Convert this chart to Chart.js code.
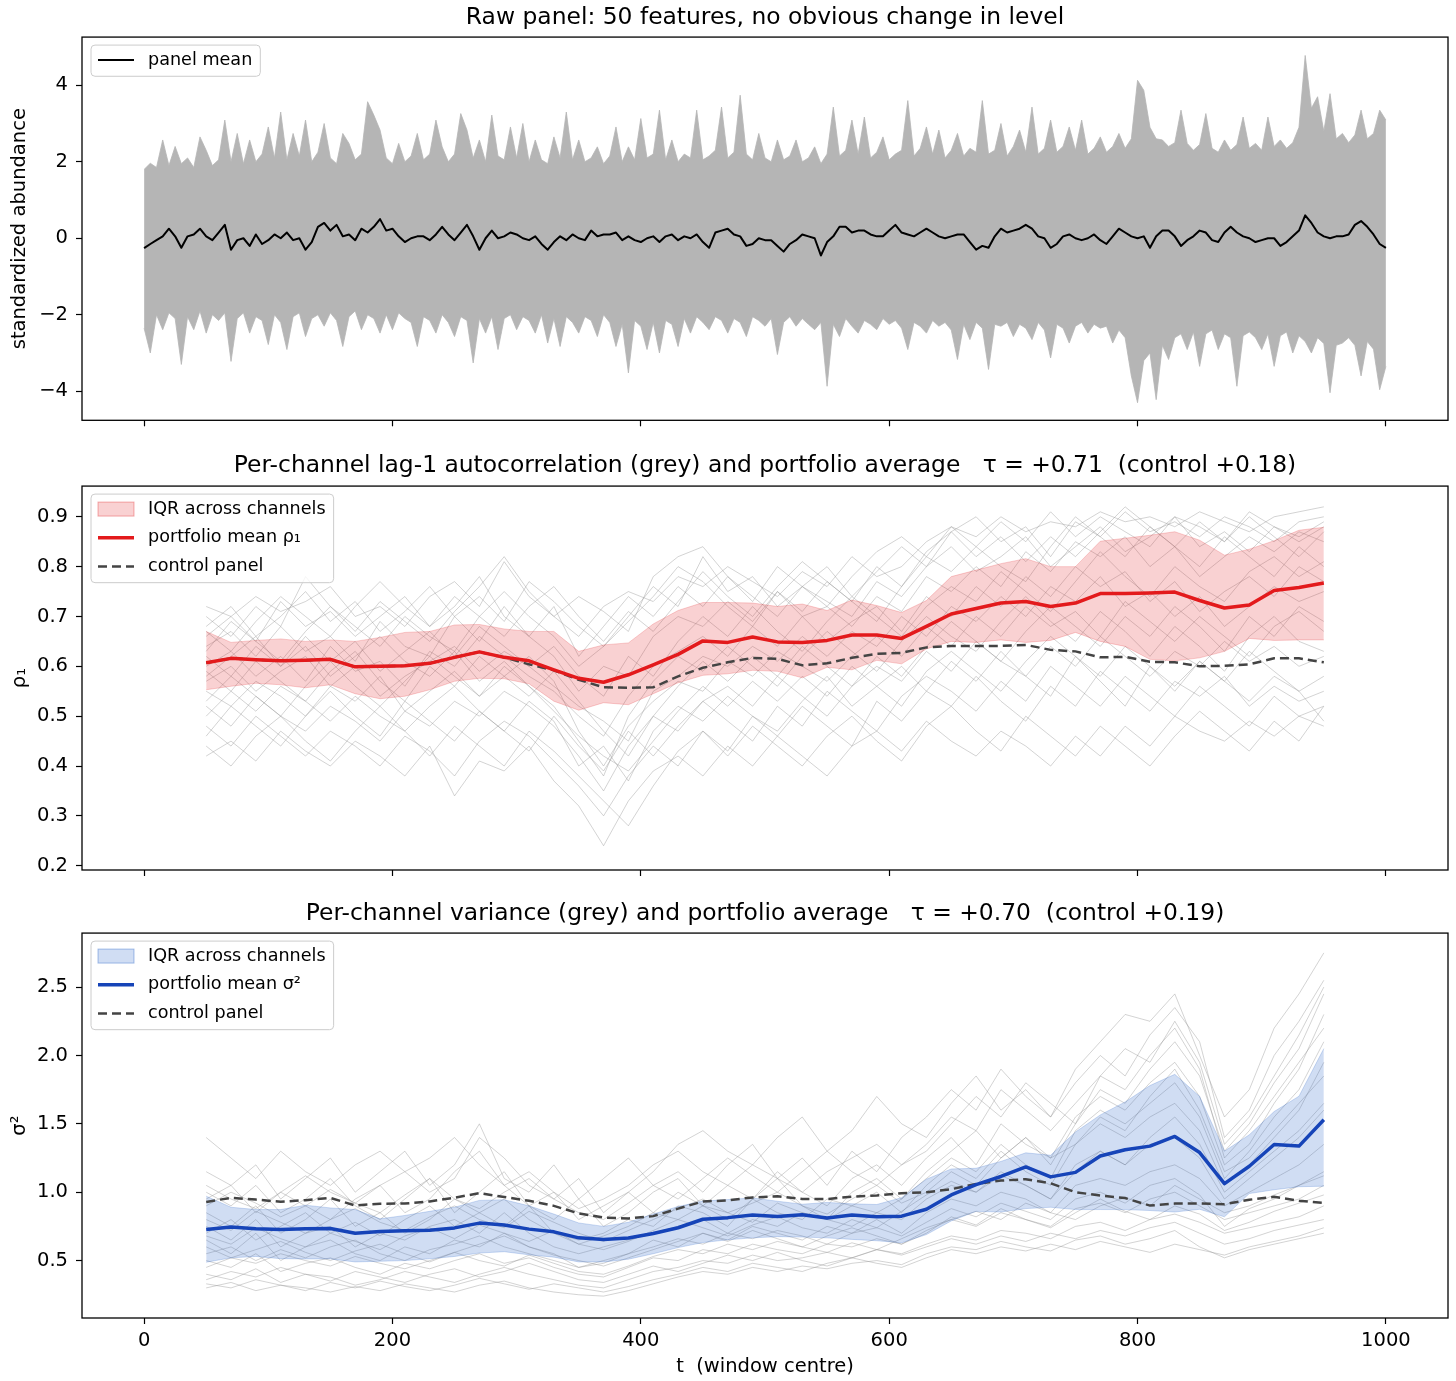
<!DOCTYPE html>
<html>
<head>
<meta charset="utf-8">
<script src="https://cdn.jsdelivr.net/npm/chart.js@4.4.1/dist/chart.umd.min.js"></script>
<style>
  body { margin: 0; background: #fff; }
  canvas { display: block; }
</style>
</head>
<body>
<canvas id="rawChart" width="1456" height="440"></canvas>
<canvas id="rhoChart" width="1456" height="450"></canvas>
<canvas id="varChart" width="1456" height="491"></canvas>
<script>
// Axes et graduations
const X_TICKS = [0, 200, 400, 600, 800, 1000];
const RAW_Y_TICKS = [-4, -2, 0, 2, 4];
const RHO_Y_TICKS = [0.2, 0.3, 0.4, 0.5, 0.6, 0.7, 0.8, 0.9];
const VAR_Y_TICKS = [0.5, 1.0, 1.5, 2.0, 2.5];

// Panneau brut : grille temporelle (pas de 5)
const T_RAW = [
  0, 5, 10, 15, 20, 25, 30, 35, 40, 45, 50, 55, 60, 65, 70, 75, 80, 85, 90, 95,
  100, 105, 110, 115, 120, 125, 130, 135, 140, 145, 150, 155, 160, 165, 170, 175, 180, 185, 190, 195,
  200, 205, 210, 215, 220, 225, 230, 235, 240, 245, 250, 255, 260, 265, 270, 275, 280, 285, 290, 295,
  300, 305, 310, 315, 320, 325, 330, 335, 340, 345, 350, 355, 360, 365, 370, 375, 380, 385, 390, 395,
  400, 405, 410, 415, 420, 425, 430, 435, 440, 445, 450, 455, 460, 465, 470, 475, 480, 485, 490, 495,
  500, 505, 510, 515, 520, 525, 530, 535, 540, 545, 550, 555, 560, 565, 570, 575, 580, 585, 590, 595,
  600, 605, 610, 615, 620, 625, 630, 635, 640, 645, 650, 655, 660, 665, 670, 675, 680, 685, 690, 695,
  700, 705, 710, 715, 720, 725, 730, 735, 740, 745, 750, 755, 760, 765, 770, 775, 780, 785, 790, 795,
  800, 805, 810, 815, 820, 825, 830, 835, 840, 845, 850, 855, 860, 865, 870, 875, 880, 885, 890, 895,
  900, 905, 910, 915, 920, 925, 930, 935, 940, 945, 950, 955, 960, 965, 970, 975, 980, 985, 990, 995,
  1000,
];

// Enveloppe haute des 50 features
const RAW_HI = [
  1.80, 1.96, 1.85, 2.57, 1.90, 2.40, 1.95, 2.10, 1.85, 2.65,
  2.30, 1.90, 2.05, 3.09, 2.00, 2.74, 1.95, 2.57, 2.00, 2.20,
  2.91, 2.10, 3.30, 2.05, 2.74, 2.15, 3.09, 2.00, 2.25, 3.00,
  2.10, 1.95, 2.74, 2.48, 2.05, 2.20, 3.57, 3.22, 2.83, 2.10,
  1.95, 2.48, 2.00, 2.15, 2.74, 2.05, 2.20, 3.09, 2.39, 2.00,
  2.20, 3.26, 2.83, 2.10, 2.57, 2.00, 3.22, 2.15, 2.05, 2.91,
  2.10, 3.00, 2.00, 2.57, 2.05, 1.95, 2.65, 2.10, 3.30, 2.05,
  2.57, 2.00, 2.10, 2.39, 1.95, 2.15, 2.91, 2.00, 2.39, 2.05,
  3.13, 2.10, 2.20, 3.35, 2.05, 2.57, 2.00, 2.20, 2.10, 3.35,
  2.05, 2.15, 2.30, 3.43, 2.10, 2.25, 3.74, 2.20, 2.05, 2.74,
  2.10, 2.00, 2.57, 2.05, 2.15, 2.57, 2.00, 2.10, 2.39, 1.95,
  2.20, 3.43, 2.15, 2.30, 3.09, 2.20, 3.17, 2.10, 2.25, 2.65,
  2.05, 2.20, 2.30, 3.60, 2.15, 2.35, 2.91, 2.20, 2.83, 2.10,
  2.30, 2.74, 2.15, 2.35, 2.25, 3.60, 2.20, 2.30, 3.00, 2.15,
  2.40, 2.83, 2.25, 3.43, 2.20, 2.35, 3.09, 2.25, 2.40, 2.91,
  2.30, 3.09, 2.20, 2.35, 2.65, 2.25, 2.40, 2.74, 2.35, 2.60,
  4.13, 3.87, 2.90, 2.60, 2.57, 2.40, 2.50, 3.35, 2.48, 2.30,
  2.45, 3.26, 2.35, 2.25, 2.57, 2.30, 2.45, 3.17, 2.35, 2.48,
  2.30, 3.17, 2.40, 2.57, 2.35, 2.50, 2.90, 4.78, 3.40, 3.70,
  2.80, 3.78, 2.60, 2.74, 2.50, 2.70, 3.35, 2.60, 2.74, 3.35,
  3.09,
];

// Enveloppe basse des 50 features
const RAW_LO = [
  -2.35, -3.00, -2.00, -2.39, -1.95, -2.10, -3.30, -2.05, -2.39, -1.90,
  -2.48, -2.00, -2.15, -1.95, -3.22, -2.10, -1.95, -2.48, -2.05, -2.15,
  -2.78, -2.00, -2.20, -2.91, -2.05, -1.95, -2.57, -2.10, -2.00, -2.30,
  -1.95, -2.15, -2.83, -2.05, -1.90, -2.39, -2.00, -2.10, -2.48, -2.00,
  -2.39, -1.95, -2.10, -2.20, -2.83, -2.05, -2.15, -2.48, -2.00, -2.20,
  -2.57, -2.05, -2.15, -3.26, -2.10, -2.48, -2.05, -2.91, -2.10, -2.00,
  -2.39, -2.05, -2.15, -2.48, -2.00, -2.74, -2.10, -2.83, -2.05, -2.20,
  -2.48, -2.05, -2.15, -2.57, -2.00, -2.20, -2.83, -2.25, -3.52, -2.15,
  -2.30, -2.91, -2.20, -3.00, -2.15, -2.25, -2.83, -2.10, -2.48, -2.05,
  -2.20, -2.39, -2.05, -2.15, -2.48, -2.10, -2.20, -2.57, -2.05, -2.15,
  -2.30, -2.10, -3.04, -2.20, -2.05, -2.30, -2.10, -2.25, -2.39, -2.20,
  -3.87, -2.25, -2.57, -2.10, -2.30, -2.48, -2.15, -2.25, -2.39, -2.10,
  -2.25, -2.15, -2.35, -2.91, -2.20, -2.30, -2.48, -2.15, -2.30, -2.20,
  -2.40, -3.17, -2.25, -2.65, -2.20, -2.35, -3.43, -2.25, -2.30, -2.20,
  -2.57, -2.25, -2.35, -2.65, -2.20, -2.40, -3.13, -2.25, -2.35, -2.74,
  -2.30, -2.20, -2.48, -2.25, -2.35, -2.30, -2.74, -2.40, -2.60, -3.60,
  -4.30, -3.20, -3.00, -4.22, -2.80, -3.17, -2.60, -2.50, -2.91, -2.45,
  -3.35, -2.50, -2.40, -2.91, -2.50, -2.60, -3.87, -2.55, -2.45, -2.60,
  -2.91, -2.50, -3.35, -2.55, -2.45, -3.00, -2.55, -2.70, -3.00, -2.60,
  -2.75, -4.04, -2.80, -2.74, -2.60, -2.80, -3.60, -2.70, -2.90, -3.96,
  -3.35,
];

// Moyenne du panneau
const RAW_MEAN = [
  -0.26, -0.15, -0.05, 0.05, 0.25, 0.05, -0.25, 0.05, 0.10, 0.25,
  0.05, -0.05, 0.15, 0.35, -0.30, -0.05, 0.00, -0.20, 0.10, -0.15,
  -0.05, 0.10, 0.00, 0.15, -0.05, 0.00, -0.30, -0.10, 0.30, 0.40,
  0.20, 0.35, 0.05, 0.10, -0.05, 0.25, 0.15, 0.30, 0.50, 0.20,
  0.25, 0.05, -0.10, 0.00, 0.05, 0.05, -0.05, 0.10, 0.30, 0.10,
  -0.05, 0.15, 0.35, 0.05, -0.30, 0.00, 0.20, 0.00, 0.05, 0.15,
  0.10, 0.00, -0.05, 0.05, -0.15, -0.30, -0.10, 0.05, -0.05, 0.10,
  0.00, -0.05, 0.20, 0.05, 0.10, 0.10, 0.15, -0.05, 0.05, -0.05,
  -0.10, 0.00, 0.05, -0.10, 0.05, 0.10, -0.05, 0.05, 0.00, 0.10,
  -0.10, -0.25, 0.15, 0.20, 0.25, 0.10, 0.05, -0.20, -0.15, 0.00,
  -0.05, -0.05, -0.20, -0.35, -0.15, -0.05, 0.10, 0.05, 0.00, -0.45,
  -0.10, 0.05, 0.30, 0.30, 0.15, 0.20, 0.20, 0.10, 0.05, 0.05,
  0.20, 0.35, 0.15, 0.10, 0.05, 0.15, 0.25, 0.15, 0.05, 0.00,
  0.05, 0.10, 0.10, -0.10, -0.30, -0.20, -0.25, 0.05, 0.25, 0.15,
  0.20, 0.25, 0.35, 0.25, 0.05, 0.00, -0.25, -0.15, 0.05, 0.10,
  0.00, -0.05, 0.00, 0.10, -0.05, -0.15, 0.05, 0.25, 0.15, 0.05,
  0.00, 0.05, -0.25, 0.05, 0.20, 0.20, 0.05, -0.20, -0.05, 0.05,
  0.20, 0.15, -0.05, -0.10, 0.15, 0.30, 0.15, 0.05, 0.00, -0.10,
  -0.05, 0.00, 0.00, -0.20, -0.10, 0.05, 0.20, 0.60, 0.40, 0.15,
  0.05, 0.00, 0.05, 0.05, 0.10, 0.35, 0.45, 0.30, 0.10, -0.15,
  -0.25,
];

// Centres de fenêtre (panneaux 2 et 3)
const T_WIN = [
  50, 70, 90, 110, 130, 150, 170, 190, 210, 230, 250, 270, 290, 310, 330, 350,
  370, 390, 410, 430, 450, 470, 490, 510, 530, 550, 570, 590, 610, 630, 650, 670,
  690, 710, 730, 750, 770, 790, 810, 830, 850, 870, 890, 910, 930, 950,
];

// Autocorrélation lag-1
const RHO_MEAN = [
  0.607, 0.616, 0.613, 0.611, 0.612, 0.614, 0.599, 0.600, 0.601, 0.606,
  0.618, 0.629, 0.618, 0.611, 0.593, 0.576, 0.568, 0.583, 0.603, 0.624,
  0.651, 0.648, 0.659, 0.649, 0.648, 0.652, 0.663, 0.663, 0.656, 0.680,
  0.705, 0.716, 0.727, 0.730, 0.720, 0.727, 0.746, 0.746, 0.747, 0.749,
  0.732, 0.717, 0.723, 0.752, 0.758, 0.767,
];
const RHO_CTRL = [
  0.607, 0.616, 0.613, 0.611, 0.612, 0.614, 0.599, 0.600, 0.601, 0.606,
  0.618, 0.629, 0.618, 0.604, 0.592, 0.573, 0.558, 0.557, 0.558, 0.580,
  0.597, 0.608, 0.617, 0.615, 0.602, 0.606, 0.617, 0.625, 0.627, 0.638,
  0.641, 0.641, 0.641, 0.643, 0.633, 0.630, 0.618, 0.619, 0.609, 0.608,
  0.600, 0.601, 0.604, 0.616, 0.616, 0.608,
];
const RHO_Q75 = [
  0.670, 0.648, 0.652, 0.655, 0.650, 0.653, 0.650, 0.658, 0.668, 0.670,
  0.683, 0.684, 0.675, 0.670, 0.670, 0.630, 0.643, 0.647, 0.685, 0.712,
  0.728, 0.728, 0.727, 0.720, 0.725, 0.712, 0.733, 0.722, 0.708, 0.732,
  0.780, 0.793, 0.806, 0.816, 0.800, 0.800, 0.851, 0.857, 0.863, 0.870,
  0.853, 0.823, 0.835, 0.852, 0.873, 0.879,
];
const RHO_Q25 = [
  0.553, 0.560, 0.566, 0.563, 0.557, 0.563, 0.545, 0.535, 0.540, 0.553,
  0.570, 0.576, 0.575, 0.565, 0.530, 0.512, 0.527, 0.523, 0.545, 0.567,
  0.582, 0.585, 0.592, 0.590, 0.577, 0.598, 0.593, 0.612, 0.605, 0.635,
  0.650, 0.648, 0.653, 0.648, 0.652, 0.668, 0.650, 0.640, 0.614, 0.611,
  0.617, 0.630, 0.656, 0.652, 0.653, 0.653,
];
const RHO_CHANNELS = [
  [0.72,0.70,0.74,0.71,0.73,0.76,0.70,0.72,0.68,0.74,0.77,0.72,0.81,0.74,0.70,0.66,0.72,0.75,0.73,0.78,0.76,0.80,0.77,0.74,0.79,0.76,0.82,0.78,0.80,0.85,0.88,0.86,0.90,0.87,0.89,0.88,0.91,0.89,0.90,0.88,0.91,0.89,0.87,0.90,0.91,0.92],
  [0.68,0.72,0.66,0.70,0.75,0.69,0.73,0.67,0.71,0.76,0.70,0.74,0.69,0.77,0.73,0.68,0.64,0.70,0.76,0.72,0.82,0.75,0.78,0.72,0.76,0.80,0.74,0.79,0.84,0.80,0.87,0.90,0.85,0.88,0.82,0.89,0.86,0.91,0.87,0.89,0.86,0.90,0.88,0.85,0.89,0.90],
  [0.64,0.67,0.62,0.68,0.63,0.66,0.61,0.69,0.64,0.62,0.70,0.65,0.72,0.66,0.62,0.55,0.60,0.58,0.66,0.70,0.68,0.73,0.69,0.75,0.70,0.72,0.68,0.74,0.71,0.78,0.75,0.80,0.76,0.83,0.79,0.85,0.82,0.86,0.80,0.84,0.78,0.82,0.86,0.83,0.87,0.85],
  [0.60,0.63,0.58,0.62,0.57,0.64,0.59,0.61,0.56,0.63,0.60,0.66,0.62,0.58,0.55,0.50,0.46,0.54,0.60,0.63,0.66,0.62,0.68,0.64,0.70,0.65,0.69,0.72,0.67,0.74,0.70,0.76,0.72,0.78,0.74,0.80,0.76,0.79,0.73,0.77,0.71,0.75,0.78,0.74,0.80,0.77],
  [0.57,0.60,0.55,0.59,0.62,0.56,0.60,0.54,0.58,0.61,0.64,0.59,0.63,0.60,0.56,0.52,0.49,0.45,0.55,0.58,0.62,0.60,0.64,0.61,0.66,0.62,0.67,0.64,0.70,0.66,0.72,0.69,0.74,0.70,0.76,0.73,0.78,0.72,0.75,0.70,0.74,0.68,0.72,0.76,0.73,0.75],
  [0.55,0.52,0.57,0.54,0.50,0.56,0.53,0.58,0.51,0.55,0.59,0.54,0.58,0.62,0.57,0.47,0.40,0.48,0.53,0.57,0.55,0.61,0.58,0.63,0.60,0.57,0.62,0.66,0.62,0.68,0.64,0.70,0.66,0.72,0.68,0.71,0.66,0.73,0.69,0.65,0.70,0.66,0.62,0.68,0.71,0.67],
  [0.52,0.48,0.54,0.50,0.47,0.52,0.49,0.45,0.51,0.48,0.53,0.50,0.55,0.52,0.48,0.42,0.35,0.44,0.50,0.47,0.53,0.56,0.52,0.58,0.54,0.50,0.56,0.60,0.57,0.63,0.59,0.65,0.61,0.58,0.64,0.60,0.66,0.62,0.58,0.63,0.60,0.65,0.61,0.64,0.60,0.62],
  [0.48,0.44,0.50,0.46,0.42,0.47,0.44,0.40,0.46,0.43,0.38,0.45,0.49,0.46,0.41,0.36,0.30,0.38,0.44,0.40,0.47,0.43,0.50,0.46,0.52,0.48,0.44,0.53,0.49,0.55,0.52,0.58,0.53,0.49,0.56,0.52,0.59,0.55,0.51,0.57,0.54,0.58,0.52,0.56,0.53,0.55],
  [0.42,0.45,0.41,0.47,0.43,0.40,0.45,0.42,0.38,0.44,0.34,0.41,0.39,0.44,0.37,0.32,0.24,0.33,0.39,0.42,0.38,0.44,0.40,0.46,0.42,0.38,0.44,0.47,0.43,0.49,0.45,0.42,0.47,0.44,0.40,0.46,0.42,0.48,0.44,0.50,0.47,0.45,0.49,0.46,0.50,0.48],
  [0.62,0.58,0.64,0.60,0.66,0.61,0.65,0.59,0.63,0.67,0.62,0.68,0.64,0.60,0.64,0.58,0.54,0.62,0.58,0.65,0.70,0.66,0.72,0.67,0.63,0.69,0.74,0.70,0.66,0.72,0.76,0.73,0.79,0.75,0.71,0.77,0.83,0.78,0.74,0.80,0.76,0.73,0.79,0.82,0.78,0.81],
  [0.66,0.70,0.65,0.73,0.68,0.71,0.66,0.70,0.74,0.68,0.72,0.78,0.70,0.66,0.72,0.62,0.68,0.74,0.70,0.76,0.72,0.78,0.74,0.70,0.76,0.73,0.70,0.77,0.74,0.80,0.84,0.79,0.82,0.86,0.80,0.84,0.88,0.83,0.86,0.90,0.84,0.87,0.83,0.88,0.86,0.89],
  [0.50,0.55,0.51,0.56,0.53,0.49,0.54,0.50,0.47,0.52,0.56,0.51,0.47,0.53,0.49,0.40,0.44,0.37,0.47,0.52,0.49,0.54,0.50,0.47,0.53,0.58,0.52,0.56,0.60,0.55,0.61,0.57,0.63,0.58,0.54,0.62,0.57,0.52,0.60,0.56,0.61,0.57,0.53,0.58,0.55,0.49],
  [0.70,0.66,0.72,0.68,0.78,0.72,0.67,0.73,0.69,0.65,0.71,0.76,0.82,0.75,0.70,0.74,0.71,0.67,0.78,0.82,0.84,0.78,0.73,0.80,0.76,0.72,0.78,0.83,0.86,0.82,0.88,0.84,0.89,0.85,0.91,0.86,0.90,0.87,0.84,0.90,0.88,0.85,0.91,0.88,0.85,0.88],
  [0.58,0.62,0.66,0.60,0.64,0.58,0.62,0.66,0.61,0.58,0.63,0.57,0.61,0.56,0.52,0.45,0.38,0.50,0.57,0.62,0.59,0.64,0.60,0.56,0.62,0.67,0.63,0.59,0.65,0.70,0.66,0.63,0.69,0.74,0.69,0.65,0.71,0.67,0.62,0.68,0.64,0.59,0.66,0.70,0.65,0.63],
  [0.46,0.52,0.48,0.44,0.50,0.55,0.50,0.46,0.53,0.49,0.45,0.51,0.47,0.43,0.50,0.44,0.39,0.47,0.42,0.48,0.53,0.49,0.45,0.52,0.48,0.55,0.51,0.47,0.54,0.58,0.55,0.51,0.57,0.53,0.60,0.56,0.52,0.58,0.54,0.50,0.56,0.52,0.48,0.54,0.50,0.52],
  [0.63,0.69,0.65,0.61,0.67,0.72,0.68,0.64,0.70,0.66,0.63,0.70,0.75,0.70,0.66,0.60,0.64,0.69,0.74,0.80,0.77,0.72,0.68,0.75,0.71,0.77,0.73,0.69,0.76,0.82,0.79,0.84,0.80,0.77,0.84,0.90,0.86,0.82,0.88,0.84,0.80,0.86,0.82,0.78,0.84,0.80],
  [0.59,0.55,0.61,0.57,0.53,0.59,0.63,0.57,0.53,0.60,0.56,0.62,0.58,0.54,0.59,0.53,0.47,0.42,0.50,0.56,0.61,0.57,0.62,0.58,0.64,0.60,0.56,0.62,0.58,0.64,0.69,0.65,0.61,0.67,0.72,0.68,0.64,0.70,0.66,0.72,0.68,0.63,0.70,0.66,0.72,0.69],
  [0.44,0.40,0.46,0.50,0.45,0.41,0.47,0.52,0.47,0.42,0.48,0.44,0.40,0.47,0.43,0.38,0.33,0.28,0.36,0.43,0.47,0.42,0.48,0.44,0.40,0.46,0.50,0.45,0.41,0.48,0.52,0.47,0.43,0.50,0.46,0.42,0.48,0.44,0.40,0.46,0.51,0.47,0.43,0.49,0.45,0.52],
  [0.67,0.63,0.69,0.74,0.70,0.66,0.72,0.77,0.72,0.68,0.74,0.70,0.66,0.72,0.76,0.70,0.65,0.71,0.67,0.73,0.79,0.74,0.70,0.76,0.81,0.77,0.73,0.80,0.76,0.83,0.87,0.82,0.86,0.81,0.86,0.82,0.87,0.92,0.88,0.84,0.89,0.85,0.90,0.86,0.82,0.87],
  [0.53,0.58,0.54,0.50,0.56,0.61,0.56,0.52,0.57,0.62,0.58,0.54,0.60,0.56,0.51,0.46,0.42,0.39,0.45,0.51,0.56,0.52,0.57,0.53,0.58,0.54,0.60,0.56,0.52,0.59,0.63,0.59,0.55,0.61,0.66,0.62,0.58,0.64,0.60,0.55,0.61,0.57,0.63,0.59,0.55,0.58],
];

// Variance
const VAR_MEAN = [
  0.727, 0.746, 0.733, 0.728, 0.733, 0.735, 0.700, 0.713, 0.718, 0.722,
  0.739, 0.774, 0.760, 0.730, 0.710, 0.666, 0.654, 0.665, 0.698, 0.740,
  0.802, 0.814, 0.833, 0.822, 0.835, 0.812, 0.834, 0.820, 0.825, 0.875,
  0.980, 1.055, 1.115, 1.185, 1.112, 1.145, 1.265, 1.310, 1.337, 1.408,
  1.290, 1.063, 1.190, 1.349, 1.337, 1.530,
];
const VAR_CTRL = [
  0.929, 0.959, 0.946, 0.930, 0.942, 0.958, 0.903, 0.916, 0.917, 0.932,
  0.960, 0.993, 0.965, 0.937, 0.900, 0.845, 0.815, 0.808, 0.825, 0.880,
  0.932, 0.940, 0.962, 0.970, 0.950, 0.950, 0.968, 0.976, 0.992, 1.000,
  1.022, 1.060, 1.085, 1.095, 1.065, 1.000, 0.976, 0.957, 0.902, 0.917,
  0.917, 0.912, 0.945, 0.966, 0.938, 0.922,
];
const VAR_Q75 = [
  0.971, 0.890, 0.873, 0.873, 0.905, 0.885, 0.873, 0.805, 0.830, 0.860,
  0.890, 0.940, 0.945, 0.900, 0.840, 0.775, 0.750, 0.780, 0.840, 0.895,
  0.935, 0.946, 0.958, 0.934, 0.912, 0.925, 0.915, 0.910, 0.960, 1.095,
  1.170, 1.175, 1.225, 1.288, 1.270, 1.440, 1.565, 1.660, 1.780, 1.862,
  1.700, 1.300, 1.420, 1.590, 1.702, 2.050,
];
const VAR_Q25 = [
  0.488, 0.520, 0.530, 0.514, 0.512, 0.512, 0.490, 0.495, 0.500, 0.513,
  0.530, 0.555, 0.565, 0.542, 0.525, 0.490, 0.490, 0.510, 0.550, 0.595,
  0.632, 0.652, 0.666, 0.675, 0.672, 0.666, 0.655, 0.645, 0.630, 0.690,
  0.790, 0.860, 0.855, 0.880, 0.890, 0.873, 0.873, 0.873, 0.866, 0.855,
  0.875, 0.820, 0.990, 1.018, 1.040, 1.044,
];
const VAR_CHANNELS = [
  [1.40,1.25,1.10,1.30,1.15,1.05,1.20,1.30,1.15,1.00,1.10,1.40,1.25,1.05,0.95,1.10,0.85,1.00,1.15,1.35,1.45,1.30,1.20,1.40,1.55,1.30,1.45,1.70,1.50,1.40,1.65,1.85,1.60,1.75,1.55,1.90,2.10,2.30,2.25,2.45,2.00,1.55,1.75,2.20,2.45,2.75],
  [1.15,1.05,1.20,0.95,1.10,1.25,1.00,1.15,1.30,1.05,1.20,1.50,1.10,1.00,1.20,0.95,1.10,1.25,1.05,1.15,1.00,1.20,1.35,1.10,1.25,1.05,1.30,1.15,1.40,1.55,1.75,1.60,1.90,1.70,1.55,1.80,2.00,1.85,2.15,2.35,2.10,1.40,1.60,2.00,2.25,2.55],
  [1.00,0.90,1.05,0.85,0.95,1.10,0.90,0.80,0.95,1.10,0.85,1.00,1.15,0.90,0.80,0.95,0.75,0.85,1.00,1.10,0.90,1.05,0.95,1.15,1.00,0.90,1.10,1.20,1.05,1.25,1.40,1.20,1.50,1.35,1.25,1.55,1.70,1.60,1.80,1.95,1.70,1.20,1.35,1.65,1.90,2.30],
  [0.85,0.75,0.90,0.70,0.80,0.95,0.75,0.85,0.70,0.80,0.95,0.85,0.75,0.90,0.70,0.65,0.70,0.80,0.75,0.90,0.85,0.75,0.95,0.85,0.80,0.95,0.90,1.00,0.85,1.05,1.20,1.10,1.30,1.15,1.05,1.35,1.50,1.40,1.55,1.65,1.45,1.05,1.20,1.40,1.60,1.95],
  [0.75,0.65,0.80,0.60,0.70,0.75,0.60,0.70,0.65,0.75,0.80,0.70,0.85,0.70,0.60,0.55,0.60,0.65,0.70,0.75,0.80,0.70,0.80,0.75,0.85,0.80,0.75,0.85,0.80,0.95,1.05,1.00,1.15,1.05,0.95,1.20,1.30,1.20,1.35,1.40,1.25,0.95,1.10,1.25,1.40,1.60],
  [0.65,0.55,0.70,0.50,0.60,0.65,0.55,0.50,0.60,0.55,0.65,0.60,0.70,0.60,0.55,0.45,0.50,0.55,0.65,0.60,0.70,0.65,0.75,0.70,0.65,0.75,0.70,0.80,0.70,0.85,0.95,0.90,1.00,0.95,0.85,1.05,1.10,1.05,1.15,1.20,1.10,0.90,1.00,1.10,1.20,1.35],
  [0.50,0.45,0.55,0.42,0.48,0.52,0.45,0.40,0.48,0.44,0.50,0.55,0.48,0.52,0.45,0.40,0.38,0.45,0.52,0.50,0.58,0.55,0.62,0.58,0.55,0.62,0.60,0.66,0.62,0.72,0.80,0.75,0.85,0.80,0.75,0.88,0.92,0.85,0.95,1.00,0.90,0.80,0.85,0.90,0.95,1.05],
  [0.40,0.36,0.44,0.34,0.40,0.38,0.32,0.36,0.42,0.38,0.34,0.40,0.45,0.40,0.36,0.32,0.30,0.36,0.42,0.45,0.50,0.48,0.54,0.50,0.52,0.56,0.52,0.58,0.55,0.62,0.68,0.65,0.72,0.70,0.66,0.75,0.78,0.72,0.80,0.84,0.78,0.70,0.74,0.78,0.82,0.90],
  [0.30,0.34,0.28,0.32,0.30,0.27,0.31,0.28,0.33,0.30,0.27,0.32,0.35,0.30,0.27,0.25,0.24,0.28,0.33,0.38,0.42,0.40,0.45,0.42,0.46,0.44,0.48,0.50,0.47,0.55,0.60,0.58,0.64,0.60,0.57,0.65,0.68,0.62,0.66,0.72,0.60,0.52,0.58,0.62,0.66,0.70],
  [0.70,0.80,0.65,0.75,0.85,0.70,0.78,0.68,0.80,0.90,0.75,0.85,0.95,0.80,0.70,0.62,0.68,0.75,0.85,0.80,0.90,0.85,0.78,0.92,0.85,0.80,0.90,0.85,0.95,1.10,1.25,1.15,1.35,1.20,1.10,1.45,1.60,1.50,1.65,1.80,1.55,1.10,1.30,1.55,1.75,2.10],
  [0.95,1.05,0.85,1.00,0.90,0.80,0.95,1.05,0.85,0.95,1.15,1.30,1.05,0.90,1.00,0.80,0.90,1.00,0.85,1.00,0.90,0.80,0.95,1.10,0.90,0.80,1.00,1.10,0.95,1.15,1.30,1.45,1.25,1.40,1.20,1.50,1.75,1.65,1.90,2.10,1.85,1.30,1.50,1.80,2.05,2.45],
  [0.55,0.60,0.50,0.58,0.52,0.60,0.65,0.55,0.50,0.58,0.62,0.68,0.60,0.55,0.50,0.45,0.48,0.55,0.60,0.66,0.62,0.70,0.66,0.72,0.68,0.62,0.70,0.74,0.68,0.78,0.88,0.82,0.92,0.86,0.80,0.95,1.00,0.92,1.05,1.10,0.98,0.75,0.88,0.95,1.05,1.15],
  [0.60,0.52,0.58,0.64,0.56,0.50,0.57,0.62,0.55,0.49,0.56,0.62,0.68,0.60,0.54,0.50,0.46,0.52,0.58,0.64,0.70,0.64,0.72,0.66,0.60,0.68,0.74,0.68,0.62,0.70,0.82,0.76,0.88,0.80,0.74,0.85,0.95,0.86,0.80,0.90,0.84,0.72,0.78,0.86,0.92,0.98],
  [1.05,0.95,0.88,1.00,1.12,1.00,0.92,1.05,1.15,1.25,1.40,1.20,1.05,1.15,1.00,0.88,0.95,1.05,1.20,1.30,1.15,1.05,1.20,1.10,1.00,1.15,1.25,1.35,1.20,1.30,1.50,1.70,1.55,1.80,1.65,1.50,1.85,2.05,1.95,2.25,1.95,1.35,1.55,1.85,2.15,2.50],
  [0.36,0.42,0.38,0.45,0.40,0.35,0.42,0.38,0.34,0.40,0.44,0.38,0.42,0.48,0.42,0.36,0.34,0.40,0.46,0.42,0.48,0.54,0.50,0.56,0.50,0.46,0.52,0.58,0.54,0.60,0.66,0.62,0.68,0.64,0.70,0.66,0.72,0.68,0.74,0.78,0.70,0.62,0.66,0.72,0.76,0.80],
  [0.80,0.72,0.86,0.78,0.70,0.80,0.88,0.78,0.72,0.82,0.90,0.80,0.74,0.86,0.78,0.70,0.64,0.72,0.80,0.88,0.95,0.85,0.92,1.00,0.90,0.84,0.95,1.05,0.92,1.00,1.15,1.05,1.25,1.40,1.25,1.35,1.55,1.45,1.70,1.90,1.60,1.15,1.25,1.45,1.65,1.85],
  [0.45,0.52,0.48,0.55,0.50,0.46,0.53,0.48,0.44,0.50,0.56,0.50,0.46,0.54,0.48,0.42,0.40,0.46,0.53,0.58,0.55,0.62,0.58,0.64,0.60,0.56,0.63,0.58,0.66,0.74,0.80,0.86,0.80,0.92,0.85,0.80,0.90,0.96,0.90,1.05,0.95,0.85,0.90,0.98,1.05,1.12],
  [0.90,1.00,0.92,0.82,0.90,1.02,0.92,0.85,0.98,1.10,0.95,0.88,1.00,1.10,0.95,0.85,0.80,0.92,1.05,0.95,1.10,1.25,1.12,1.00,1.15,1.30,1.15,1.05,1.20,1.35,1.55,1.45,1.75,1.60,1.45,1.65,1.85,1.75,2.00,2.20,1.90,1.25,1.45,1.70,1.95,2.20],
  [0.33,0.30,0.36,0.32,0.28,0.34,0.30,0.35,0.31,0.28,0.32,0.37,0.33,0.29,0.33,0.30,0.27,0.31,0.36,0.40,0.45,0.42,0.48,0.45,0.42,0.48,0.52,0.48,0.45,0.52,0.58,0.55,0.60,0.57,0.62,0.58,0.64,0.60,0.56,0.62,0.58,0.54,0.60,0.64,0.68,0.74],
  [0.68,0.62,0.74,0.66,0.60,0.70,0.64,0.58,0.68,0.74,0.66,0.76,0.70,0.64,0.72,0.62,0.58,0.64,0.72,0.80,0.74,0.68,0.76,0.82,0.74,0.70,0.80,0.74,0.86,0.98,1.08,1.00,1.12,1.05,0.95,1.15,1.30,1.20,1.40,1.55,1.35,1.00,1.15,1.30,1.45,1.65],
];

Chart.defaults.font.family = "'DejaVu Sans', sans-serif";
Chart.defaults.color = "#000";

const FONT = 19.5;
const LEGEND_FONT = 17.6;

// Cadre des axes + légende interne (style matplotlib)
const panelFrame = {
  id: "panelFrame",
  afterDraw: (chart) => {
    const { ctx, chartArea: a } = chart;
    ctx.save();
    ctx.lineWidth = 1.3;
    ctx.strokeStyle = "#000";
    ctx.strokeRect(a.left, a.top, a.right - a.left, a.bottom - a.top);

    const items = chart.data.datasets
      .filter((d) => d.legendRank)
      .sort((p, q) => p.legendRank - q.legendRank);
    ctx.font = LEGEND_FONT + "px 'DejaVu Sans'";
    const textW = Math.max(...items.map((d) => ctx.measureText(d.label).width));
    const bx = a.left + 9;
    const by = a.top + 8;
    const bw = 57 + textW + 8;
    const bh = 2.5 + items.length * 28.7;
    ctx.beginPath();
    if (ctx.roundRect) ctx.roundRect(bx, by, bw, bh, 4);
    else ctx.rect(bx, by, bw, bh);
    ctx.fillStyle = "rgba(255,255,255,0.8)";
    ctx.fill();
    ctx.lineWidth = 1;
    ctx.strokeStyle = "#cccccc";
    ctx.stroke();

    items.forEach((d, i) => {
      const cy = by + 15 + i * 28.7;
      if (d.fill) {
        ctx.fillStyle = d.backgroundColor;
        ctx.fillRect(bx + 7, cy - 7, 36, 14);
        ctx.strokeStyle = d.legendEdge;
        ctx.lineWidth = 1;
        ctx.strokeRect(bx + 7, cy - 7, 36, 14);
      } else {
        ctx.beginPath();
        ctx.setLineDash(d.borderDash || []);
        ctx.strokeStyle = d.borderColor;
        ctx.lineWidth = d.borderWidth;
        ctx.moveTo(bx + 7, cy);
        ctx.lineTo(bx + 43, cy);
        ctx.stroke();
        ctx.setLineDash([]);
      }
      ctx.fillStyle = "#000";
      ctx.textBaseline = "middle";
      ctx.textAlign = "left";
      ctx.fillText(d.label, bx + 57, cy);
    });
    ctx.restore();
  },
};
Chart.register(panelFrame);

const pts = (xs, ys) => xs.map((x, i) => ({ x: x, y: ys[i] }));

const tickGrid = {
  drawOnChartArea: false,
  drawTicks: true,
  tickLength: 6,
  tickColor: "#000",
  tickWidth: 1.2,
};

function xAxis(showLabels, height) {
  return {
    type: "linear",
    min: -50,
    max: 1050,
    afterBuildTicks: (s) => { s.ticks = X_TICKS.map((v) => ({ value: v })); },
    afterFit: (s) => { s.height = height; },
    grid: tickGrid,
    border: { display: false },
    ticks: {
      display: showLabels,
      font: { size: FONT },
      padding: 5,
      maxRotation: 0,
      callback: (v) => String(v),
    },
    title: {
      display: showLabels,
      text: "t  (window centre)",
      font: { size: FONT },
      padding: { top: 2, bottom: 2 },
    },
  };
}

function yAxis(min, max, ticks, title, fmt) {
  return {
    type: "linear",
    min: min,
    max: max,
    afterBuildTicks: (s) => { s.ticks = ticks.map((v) => ({ value: v })); },
    afterFit: (s) => { s.width = 82; },
    grid: tickGrid,
    border: { display: false },
    ticks: { font: { size: FONT }, padding: 8, callback: fmt },
    title: { display: true, text: title, font: { size: FONT }, padding: { top: 8, bottom: 0 } },
  };
}

function baseOptions(titleText, padTop, titlePad, scales) {
  return {
    responsive: false,
    animation: false,
    devicePixelRatio: 1,
    events: [],
    layout: { padding: { top: padTop, right: 8, left: 0, bottom: 0 } },
    elements: { point: { radius: 0 }, line: { tension: 0 } },
    scales: scales,
    plugins: {
      legend: { display: false },
      tooltip: { enabled: false },
      title: {
        display: true,
        fullSize: false,
        text: titleText,
        color: "#000",
        font: { size: 23.4, weight: "normal" },
        padding: titlePad,
      },
    },
  };
}

function channelLines(rows) {
  return rows.map((r) => ({
    data: pts(T_WIN, r),
    borderColor: "rgba(150,150,150,0.5)",
    borderWidth: 0.85,
    fill: false,
  }));
}

// Graphique 1 : panneau brut
new Chart(document.getElementById("rawChart").getContext("2d"), {
  type: "line",
  data: {
    datasets: [
      {
        label: "panel mean",
        legendRank: 1,
        data: pts(T_RAW, RAW_MEAN),
        borderColor: "#000",
        borderWidth: 2,
        borderJoinStyle: "round",
        fill: false,
      },
      {
        data: pts(T_RAW, RAW_HI),
        borderColor: "#b5b5b5",
        backgroundColor: "#b5b5b5",
        borderWidth: 0.8,
        fill: "+1",
      },
      {
        data: pts(T_RAW, RAW_LO),
        borderColor: "#b5b5b5",
        borderWidth: 0.8,
        fill: false,
      },
    ],
  },
  options: baseOptions(
    "Raw panel: 50 features, no obvious change in level",
    0,
    { top: 4, bottom: 5 },
    {
      x: xAxis(false, 19),
      y: yAxis(-4.76, 5.26, RAW_Y_TICKS, "standardized abundance",
        (v) => (v < 0 ? "\u2212" + Math.abs(v) : String(v))),
    }
  ),
});

// Graphique 2 : autocorrélation lag-1
new Chart(document.getElementById("rhoChart").getContext("2d"), {
  type: "line",
  data: {
    datasets: [
      {
        label: "portfolio mean \u03c1\u2081",
        legendRank: 2,
        data: pts(T_WIN, RHO_MEAN),
        borderColor: "#e31a1c",
        borderWidth: 3.5,
        borderJoinStyle: "round",
        fill: false,
      },
      {
        label: "control panel",
        legendRank: 3,
        data: pts(T_WIN, RHO_CTRL),
        borderColor: "#444444",
        borderWidth: 2.5,
        borderDash: [9, 5],
        fill: false,
      },
      {
        label: "IQR across channels",
        legendRank: 1,
        data: pts(T_WIN, RHO_Q75),
        borderColor: "rgba(227,26,28,0.2)",
        backgroundColor: "rgba(227,26,28,0.2)",
        legendEdge: "rgba(227,26,28,0.35)",
        borderWidth: 1,
        fill: "+1",
      },
      {
        data: pts(T_WIN, RHO_Q25),
        borderColor: "rgba(227,26,28,0.2)",
        borderWidth: 1,
        fill: false,
      },
      ...channelLines(RHO_CHANNELS),
    ],
  },
  options: baseOptions(
    "Per-channel lag-1 autocorrelation (grey) and portfolio average   \u03c4 = +0.71  (control +0.18)",
    8,
    { top: 4, bottom: 6 },
    {
      x: xAxis(false, 20),
      y: yAxis(0.1914, 0.9616, RHO_Y_TICKS, "\u03c1\u2081", (v) => v.toFixed(1)),
    }
  ),
});

// Graphique 3 : variance
new Chart(document.getElementById("varChart").getContext("2d"), {
  type: "line",
  data: {
    datasets: [
      {
        label: "portfolio mean \u03c3\u00b2",
        legendRank: 2,
        data: pts(T_WIN, VAR_MEAN),
        borderColor: "#1644b8",
        borderWidth: 3.5,
        borderJoinStyle: "round",
        fill: false,
      },
      {
        label: "control panel",
        legendRank: 3,
        data: pts(T_WIN, VAR_CTRL),
        borderColor: "#444444",
        borderWidth: 2.5,
        borderDash: [9, 5],
        fill: false,
      },
      {
        label: "IQR across channels",
        legendRank: 1,
        data: pts(T_WIN, VAR_Q75),
        borderColor: "rgba(40,100,200,0.22)",
        backgroundColor: "rgba(40,100,200,0.22)",
        legendEdge: "rgba(40,100,200,0.4)",
        borderWidth: 1,
        fill: "+1",
      },
      {
        data: pts(T_WIN, VAR_Q25),
        borderColor: "rgba(40,100,200,0.22)",
        borderWidth: 1,
        fill: false,
      },
      ...channelLines(VAR_CHANNELS),
    ],
  },
  options: baseOptions(
    "Per-channel variance (grey) and portfolio average   \u03c4 = +0.70  (control +0.19)",
    6,
    { top: 4, bottom: 5 },
    {
      x: xAxis(true, 63),
      y: yAxis(0.08, 2.895, VAR_Y_TICKS, "\u03c3\u00b2", (v) => v.toFixed(1)),
    }
  ),
});
</script>
</body>
</html>
